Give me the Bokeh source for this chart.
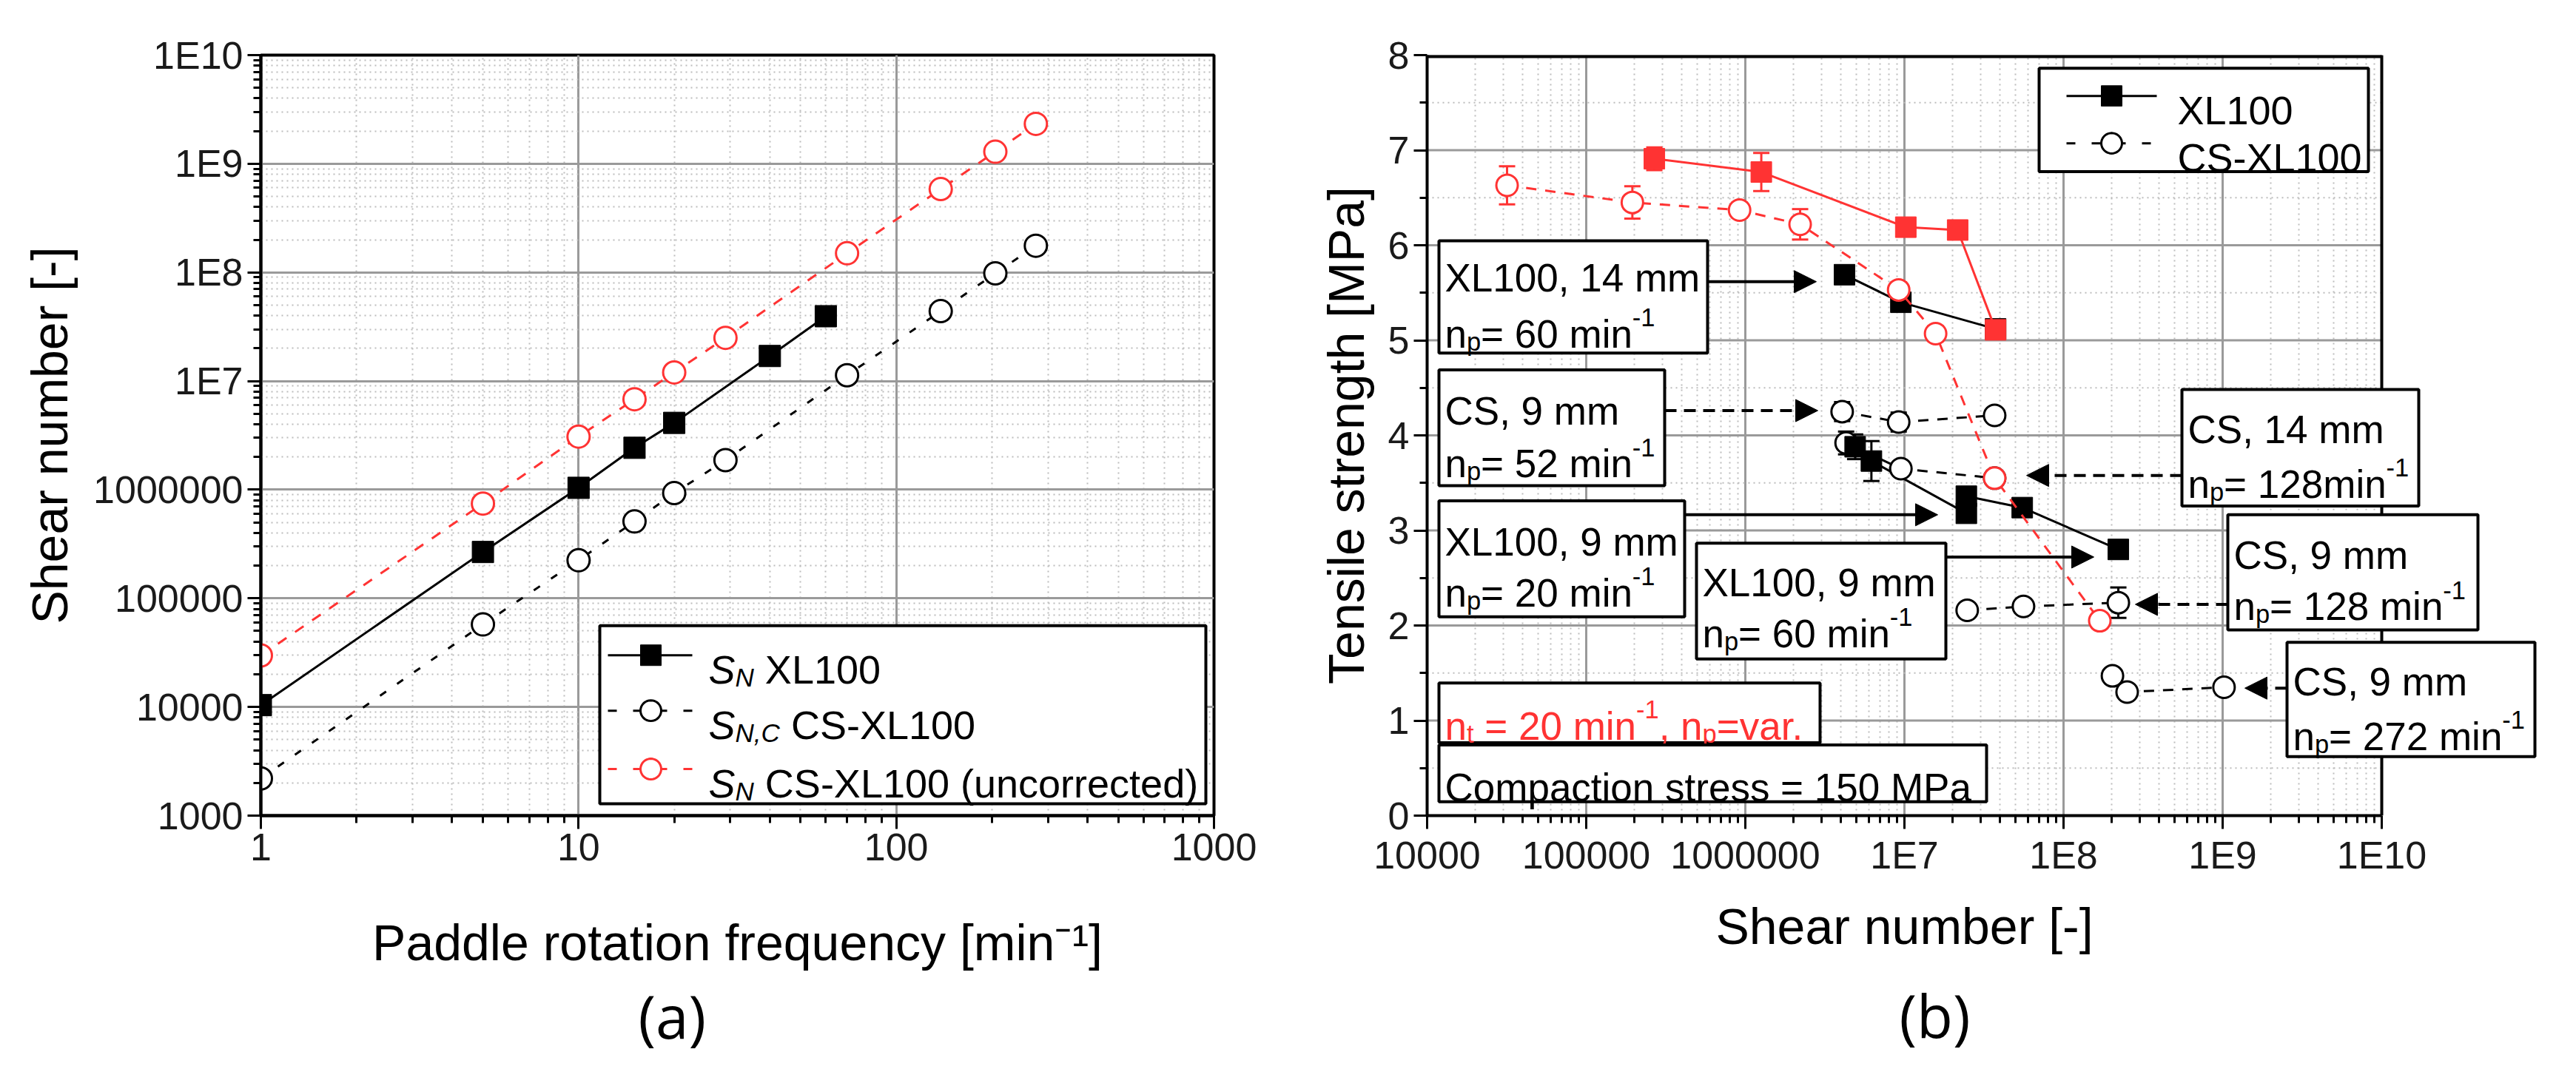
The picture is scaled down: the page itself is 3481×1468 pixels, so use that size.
import numpy as np
from bokeh.plotting import figure
from bokeh.layouts import row
from bokeh.models import (Range1d, FixedTicker, CustomJSTickFormatter, Label,
                          BoxAnnotation, PolyAnnotation, Arrow, NormalHead, Title)
from bokeh.embed import file_html
from bokeh.resources import INLINE

# ---------------- Panel (a): shear number vs paddle rotation frequency ----------------
a_freq_xl100 = [1, 5, 10, 15, 20, 40, 60]
a_sn_xl100 = [1.04e4, 2.67e5, 1.04e6, 2.43e6, 4.12e6, 1.70e7, 3.95e7]
a_freq_cs = [1, 5, 10, 15, 20, 29, 70, 138, 205, 275]
a_snc_cs = [2.2e3, 5.75e4, 2.24e5, 5.1e5, 9.3e5, 1.87e6, 1.13e7, 4.4e7, 9.8e7, 1.76e8]
a_sn_cs_uncorr = [2.98e4, 7.45e5, 3.08e6, 6.8e6, 1.2e7, 2.5e7, 1.5e8, 5.85e8, 1.29e9, 2.33e9]

a_xticks = [1, 10, 100, 1000]
a_xtick_labels = ["1", "10", "100", "1000"]
a_yticks = [1e3, 1e4, 1e5, 1e6, 1e7, 1e8, 1e9, 1e10]
a_ytick_labels = ["1000", "10000", "100000", "1000000", "1E7", "1E8", "1E9", "1E10"]

# ---------------- Panel (b): tensile strength vs shear number ----------------
# red: n_t = 20 min-1, n_p = var.
b_sh_xl_var = [2.68e5, 1.26e6, 1.02e7, 2.16e7, 3.74e7]
b_ts_xl_var = [6.91, 6.77, 6.19, 6.16, 5.11]
b_err_xl_var = [0.12, 0.20, 0.05, 0.05, 0.05]
b_sh_cs_var = [3.18e4, 1.95e5, 9.2e5, 2.21e6, 9.2e6, 1.57e7, 3.69e7, 1.69e8]
b_ts_cs_var = [6.63, 6.45, 6.37, 6.22, 5.53, 5.07, 3.55, 2.05]
b_err_cs_var = [0.20, 0.17, 0.08, 0.16, 0.08, 0.08, 0.08, 0.08]
# black squares: XL100
b_sh_xl14_60 = [4.2e6, 9.5e6, 3.74e7]
b_ts_xl14_60 = [5.69, 5.40, 5.12]
b_err_xl14_60 = [0.05, 0.08, 0.05]
b_sh_xl9_20 = [4.9e6, 6.2e6, 2.45e7]
b_ts_xl9_20 = [3.88, 3.73, 3.18]
b_err_xl9_20 = [0.13, 0.21, 0.08]
b_sh_xl9_60 = [2.45e7, 5.5e7, 2.21e8]
b_ts_xl9_60 = [3.36, 3.24, 2.80]
b_err_xl9_60 = [0.08, 0.05, 0.05]
# black open circles: CS-XL100
b_sh_cs9_52 = [4.06e6, 9.2e6, 3.69e7]
b_ts_cs9_52 = [4.25, 4.14, 4.21]
b_err_cs9_52 = [0.10, 0.10, 0.05]
b_sh_cs14_128 = [4.3e6, 9.5e6, 3.69e7]
b_ts_cs14_128 = [3.92, 3.65, 3.55]
b_err_cs14_128 = [0.12, 0.05, 0.05]
b_sh_cs9_128 = [2.48e7, 5.6e7, 2.21e8]
b_ts_cs9_128 = [2.16, 2.20, 2.24]
b_err_cs9_128 = [0.06, 0.05, 0.16]
b_sh_cs9_272 = [2.03e8, 2.51e8, 1.02e9]
b_ts_cs9_272 = [1.47, 1.30, 1.35]
b_err_cs9_272 = [0.05, 0.05, 0.05]

b_xticks = [1e4, 1e5, 1e6, 1e7, 1e8, 1e9, 1e10]
b_xtick_labels = ["10000", "100000", "1000000", "1E7", "1E8", "1E9", "1E10"]
b_yticks = [0, 1, 2, 3, 4, 5, 6, 7, 8]

# ---------------- styling constants ----------------
FONT = "Liberation Sans"
RED = "#ff3333"
W1, W2, H = 1740, 1725, 1452
FA_W, FA_H = 1288, 1029      # frame size, panel (a)
FB_W, FB_H = 1290, 1044      # axes size, panel (b)
FB_EXTRA = 225               # room right of the axes box for the call-out boxes

ARIAL = {' ': 278, '!': 278, '(': 333, ')': 333, ',': 278, '-': 333, '.': 278, '=': 584,
         '[': 278, ']': 278, ':': 278}
for c in "0123456789":
    ARIAL[c] = 556
ARIAL.update(dict(zip("ABCDEFGHIJKLMNOPQRSTUVWXYZ",
                      [667, 667, 722, 722, 667, 611, 778, 722, 278, 500, 667, 556, 833,
                       722, 778, 667, 778, 722, 667, 611, 722, 667, 944, 667, 667, 611])))
ARIAL.update(dict(zip("abcdefghijklmnopqrstuvwxyz",
                      [556, 556, 500, 556, 556, 278, 556, 556, 222, 222, 500, 222, 833,
                       556, 556, 556, 556, 333, 500, 278, 556, 500, 722, 500, 500, 500])))


def tw(s, size):
    return sum(ARIAL.get(c, 556) for c in s) * size / 1000.0


def formatter(tick_values, tick_labels):
    return CustomJSTickFormatter(args=dict(tv=[float(t) for t in tick_values], tl=tick_labels), code="""
        let best = 0, bd = 1e99;
        for (let i = 0; i < tv.length; i++) {
            const d = Math.abs(Math.log10(tv[i]) - Math.log10(tick));
            if (d < bd) { bd = d; best = i; }
        }
        return bd < 1e-6 ? tl[best] : "";
    """)


def style_axis(ax, standoff):
    ax.axis_line_width = 4
    ax.axis_line_color = "black"
    ax.major_tick_line_width = 3
    ax.major_tick_out = 18
    ax.major_tick_in = 0
    ax.minor_tick_line_width = 3
    ax.minor_tick_out = 10
    ax.minor_tick_in = 0
    ax.major_label_text_font = FONT
    ax.major_label_text_font_size = "52px"
    ax.major_label_text_color = "#1a1a1a"
    ax.major_label_standoff = 6
    ax.axis_label_text_font = FONT
    ax.axis_label_text_font_size = "68px"
    ax.axis_label_text_font_style = "normal"
    ax.axis_label_text_color = "black"
    ax.axis_label_standoff = standoff


GRID_MAJOR = dict(line_color="#9a9a9a", line_width=3)
GRID_MINOR = dict(line_color="#bdbdbd", line_width=2, line_dash="2 5")


def style_grid(g):
    g.grid_line_color = GRID_MAJOR["line_color"]
    g.grid_line_width = GRID_MAJOR["line_width"]
    g.minor_grid_line_color = GRID_MINOR["line_color"]
    g.minor_grid_line_width = GRID_MINOR["line_width"]
    g.minor_grid_line_dash = GRID_MINOR["line_dash"]


def rich(p, mx, my, px, pyc, segs, size, color="black"):
    """Draw a line of text with sub/superscripts; px,pyc in frame pixels (left, vertical centre)."""
    bx = mx(px)
    by = my(pyc - 0.358 * size)
    off = 0.0
    for text, kind in segs:
        fs = size if kind in ("n", "it") else size * 0.65
        dy = {"n": 0, "it": 0, "sub": -0.2 * size, "itsub": -0.2 * size, "sup": 0.42 * size}[kind]
        style = "italic" if kind.startswith("it") else "normal"
        lead = len(text) - len(text.lstrip(" "))
        s = text.strip(" ")
        if s:
            p.add_layout(Label(x=bx, y=by, x_offset=off + tw(" " * lead, fs), y_offset=dy, text=s,
                               text_font=FONT, text_font_size=f"{fs:.1f}px", text_font_style=style,
                               text_color=color, text_align="left", text_baseline="alphabetic"))
        off += tw(text, fs)


def box(p, mx, my, l, r, b, t):
    p.add_layout(BoxAnnotation(left=mx(l), right=mx(r), bottom=my(b), top=my(t),
                               fill_color="white", fill_alpha=1.0, line_color="black",
                               line_alpha=1.0, line_width=4))


def circle_poly(p, mx, my, cx, cy, r, color):
    ang = np.linspace(0, 2 * np.pi, 33)[:-1]
    p.add_layout(PolyAnnotation(xs=[mx(cx + r * np.cos(a)) for a in ang],
                                ys=[my(cy + r * np.sin(a)) for a in ang],
                                fill_color="white", fill_alpha=1.0, line_color=color,
                                line_alpha=1.0, line_width=3))


def seg(p, mx, my, x0, x1, y, color, dash="solid", width=3, head=False):
    end = NormalHead(size=30, fill_color=color, line_color=color, line_width=1) if head else None
    p.add_layout(Arrow(x_start=mx(x0), y_start=my(y), x_end=mx(x1), y_end=my(y), start=None, end=end,
                       line_color=color, line_width=width, line_dash=dash))


def err_bars(p, xs, ys, es, color):
    lo = [y - e for y, e in zip(ys, es)]
    hi = [y + e for y, e in zip(ys, es)]
    p.segment(x0=xs, y0=lo, x1=xs, y1=hi, line_color=color, line_width=3)
    p.scatter(xs, lo, marker="dash", size=22, line_color=color, line_width=3)
    p.scatter(xs, hi, marker="dash", size=22, line_color=color, line_width=3)


# =============================== Panel (a) ===============================
pa = figure(width=W1, height=H, x_axis_type="log", y_axis_type="log",
            x_range=Range1d(1, 1000), y_range=Range1d(1e3, 1e10),
            output_backend="svg", toolbar_location=None,
            min_border_left=352, min_border_right=W1 - 352 - FA_W,
            min_border_top=74, min_border_bottom=H - 74 - FA_H,
            background_fill_color="white", border_fill_color="white")
pa.outline_line_color = "black"
pa.outline_line_width = 4
pa.outline_line_alpha = 1.0

tx = FixedTicker(ticks=a_xticks, minor_ticks=[k * 10.0 ** e for e in range(0, 3) for k in range(2, 10)])
ty = FixedTicker(ticks=a_yticks, minor_ticks=[k * 10.0 ** e for e in range(3, 10) for k in range(2, 10)])
pa.xaxis[0].ticker = tx
pa.xgrid[0].ticker = tx
pa.yaxis[0].ticker = ty
pa.ygrid[0].ticker = ty
pa.xaxis[0].formatter = formatter(a_xticks, a_xtick_labels)
pa.yaxis[0].formatter = formatter(a_yticks, a_ytick_labels)
style_axis(pa.xaxis[0], 70)
style_axis(pa.yaxis[0], 18)
style_grid(pa.xgrid[0])
style_grid(pa.ygrid[0])
pa.xaxis[0].axis_label = "Paddle rotation frequency [min\u207b\u00b9]"
pa.yaxis[0].axis_label = "Shear number [-]"

pa.line(a_freq_cs, a_sn_cs_uncorr, line_color=RED, line_width=3, line_dash="14 14")
pa.line(a_freq_cs, a_snc_cs, line_color="black", line_width=3, line_dash="10 18")
pa.line(a_freq_xl100, a_sn_xl100, line_color="black", line_width=3)
pa.scatter(a_freq_cs, a_sn_cs_uncorr, marker="circle", size=30, fill_color="white",
           line_color=RED, line_width=3)
pa.scatter(a_freq_cs, a_snc_cs, marker="circle", size=30, fill_color="white",
           line_color="black", line_width=3)
pa.scatter(a_freq_xl100, a_sn_xl100, marker="square", size=29, fill_color="black",
           line_color="black", line_width=1)


def amx(px):
    return 10 ** (3.0 * px / FA_W)


def amy(py):
    return 10 ** (3.0 + 7.0 * py / FA_H)


# legend (a)
box(pa, amx, amy, 458, 1277, 16, 257)
LEG = 54
seg(pa, amx, amy, 469, 583, 217, "black")
pa.add_layout(BoxAnnotation(left=amx(513), right=amx(541), bottom=amy(203), top=amy(231),
                            fill_color="black", fill_alpha=1.0, line_color="black", line_alpha=1.0))
rich(pa, amx, amy, 605, 217, [("S", "it"), ("N", "itsub"), (" XL100", "n")], LEG)
seg(pa, amx, amy, 469, 583, 142, "black", dash="12 22")
circle_poly(pa, amx, amy, 527, 142, 14, "black")
rich(pa, amx, amy, 605, 142, [("S", "it"), ("N,C", "itsub"), (" CS-XL100", "n")], LEG)
seg(pa, amx, amy, 469, 583, 63, RED, dash="12 22")
circle_poly(pa, amx, amy, 527, 63, 14, RED)
rich(pa, amx, amy, 605, 63, [("S", "it"), ("N", "itsub"), (" CS-XL100 (uncorrected)", "n")], LEG)

pa.add_layout(Title(text="(a)", align="left", offset=510, standoff=2, text_font="Open Sans",
                    text_font_size="80px", text_font_style="normal", text_color="black"), "below")

# =============================== Panel (b) ===============================
B_XMIN, B_XMAX = b_xticks[0], b_xticks[-1]
B_YMIN, B_YMAX = b_yticks[0], b_yticks[-1]
b_decades = np.log10(B_XMAX) - np.log10(B_XMIN)
x_end_ext = 10 ** (np.log10(B_XMIN) + b_decades * (FB_W + FB_EXTRA) / FB_W)

pb = figure(width=W2, height=H, x_axis_type="log",
            x_range=Range1d(B_XMIN, x_end_ext), y_range=Range1d(B_YMIN, B_YMAX),
            output_backend="svg", toolbar_location=None,
            min_border_left=188, min_border_right=W2 - 188 - FB_W - FB_EXTRA,
            min_border_top=58, min_border_bottom=H - 58 - FB_H,
            background_fill_color="white", border_fill_color="white")
pb.outline_line_color = None

tbx = FixedTicker(ticks=b_xticks, minor_ticks=[k * 10.0 ** e for e in range(4, 10) for k in range(2, 10)])
tby = FixedTicker(ticks=b_yticks, minor_ticks=[v + 0.5 for v in b_yticks[:-1]])
pb.xaxis[0].ticker = tbx
pb.xgrid[0].ticker = tbx
pb.yaxis[0].ticker = tby
pb.xaxis[0].bounds = (B_XMIN, B_XMAX)
pb.xaxis[0].formatter = formatter(b_xticks, b_xtick_labels)
style_axis(pb.xaxis[0], 10)
style_axis(pb.yaxis[0], 16)
style_grid(pb.xgrid[0])
pb.ygrid[0].visible = False
pb.yaxis[0].axis_label = "Tensile strength [MPa]"

# horizontal grid limited to the axes box
b_yminor = [v + 0.5 for v in b_yticks[:-1]]
pb.segment(x0=[B_XMIN] * len(b_yminor), x1=[B_XMAX] * len(b_yminor), y0=b_yminor, y1=b_yminor,
           **GRID_MINOR)
pb.segment(x0=[B_XMIN] * len(b_yticks), x1=[B_XMAX] * len(b_yticks), y0=b_yticks, y1=b_yticks,
           **GRID_MAJOR)

black_sq = [(b_sh_xl14_60, b_ts_xl14_60, b_err_xl14_60),
            (b_sh_xl9_20, b_ts_xl9_20, b_err_xl9_20),
            (b_sh_xl9_60, b_ts_xl9_60, b_err_xl9_60)]
black_ci = [(b_sh_cs9_52, b_ts_cs9_52, b_err_cs9_52),
            (b_sh_cs14_128, b_ts_cs14_128, b_err_cs14_128),
            (b_sh_cs9_128, b_ts_cs9_128, b_err_cs9_128),
            (b_sh_cs9_272, b_ts_cs9_272, b_err_cs9_272)]

for xs, ys, es in black_ci:
    pb.line(xs, ys, line_color="black", line_width=3, line_dash="14 12")
for xs, ys, es in black_sq:
    pb.line(xs, ys, line_color="black", line_width=3)
for xs, ys, es in black_ci + black_sq:
    err_bars(pb, xs, ys, es, "black")
for xs, ys, es in black_ci:
    pb.scatter(xs, ys, marker="circle", size=29, fill_color="white", line_color="black", line_width=3)
for xs, ys, es in black_sq:
    pb.scatter(xs, ys, marker="square", size=28, fill_color="black", line_color="black", line_width=1)

pb.line(b_sh_cs_var, b_ts_cs_var, line_color=RED, line_width=3, line_dash="14 12")
pb.line(b_sh_xl_var, b_ts_xl_var, line_color=RED, line_width=3)
err_bars(pb, b_sh_cs_var, b_ts_cs_var, b_err_cs_var, RED)
err_bars(pb, b_sh_xl_var, b_ts_xl_var, b_err_xl_var, RED)
pb.scatter(b_sh_cs_var, b_ts_cs_var, marker="circle", size=29, fill_color="white",
           line_color=RED, line_width=3)
pb.scatter(b_sh_xl_var, b_ts_xl_var, marker="square", size=28, fill_color=RED,
           line_color=RED, line_width=1)

# axes box: top and right edges
pb.segment(x0=[B_XMIN], x1=[B_XMAX], y0=[B_YMAX], y1=[B_YMAX], line_color="black", line_width=8)
pb.segment(x0=[B_XMAX], x1=[B_XMAX], y0=[B_YMIN], y1=[B_YMAX], line_color="black", line_width=4)


def bmx(px):
    return 10 ** (np.log10(B_XMIN) + b_decades * px / FB_W)


def bmy(py):
    return B_YMIN + (B_YMAX - B_YMIN) * py / FB_H


TXT = 53
NP = [("n", "n"), ("p", "sub")]
annots = [
    # (l, r, b, t, text-left, line1 centre, line2 centre, line1, line2-rest, arrow x0, x1, y, dashed)
    (16, 379, 635, 789, 24, 757, 680, "XL100, 14 mm", "= 60 min", 379, 526, 733, False),
    (16, 321, 453, 612, 24, 574, 502, "CS, 9 mm", "= 52 min", 321, 528, 556, True),
    (1020, 1340, 425, 585, 1028, 549, 474, "CS, 14 mm", "= 128min", 1020, 810, 467, True),
    (16, 348, 273, 432, 24, 395, 325, "XL100, 9 mm", "= 20 min", 348, 690, 413, False),
    (364, 701, 215, 374, 372, 339, 269, "XL100, 9 mm", "= 60 min", 701, 901, 355, False),
    (1082, 1420, 255, 413, 1090, 376, 306, "CS, 9 mm", "= 128 min", 1082, 957, 290, True),
    (1162, 1497, 81, 238, 1170, 203, 128, "CS, 9 mm", "= 272 min", 1162, 1105, 175, True),
]
for (l, r, b, t, tl, c1, c2, line1, line2, ax0, ax1, ay, dashed) in annots:
    seg(pb, bmx, bmy, ax0, ax1, ay, "black", dash="16 10" if dashed else "solid", width=4, head=True)
    box(pb, bmx, bmy, l, r, b, t)
    rich(pb, bmx, bmy, tl, c1, [(line1, "n")], TXT)
    rich(pb, bmx, bmy, tl, c2, NP + [(line2, "n"), ("-1", "sup")], TXT)

box(pb, bmx, bmy, 16, 531, 100, 182)
rich(pb, bmx, bmy, 24, 142, [("n", "n"), ("t", "sub"), (" = 20 min", "n"), ("-1", "sup"),
                             (", n", "n"), ("p", "sub"), ("=var.", "n")], TXT, color=RED)
box(pb, bmx, bmy, 16, 756, 19, 97)
rich(pb, bmx, bmy, 24, 58, [("Compaction stress = 150 MPa", "n")], TXT)

# legend (b)
box(pb, bmx, bmy, 827, 1272, 884, 1026)
seg(pb, bmx, bmy, 864, 986, 988, "black")
pb.add_layout(BoxAnnotation(left=bmx(911), right=bmx(939), bottom=bmy(974), top=bmy(1002),
                            fill_color="black", fill_alpha=1.0, line_color="black", line_alpha=1.0))
rich(pb, bmx, bmy, 1014, 988, [("XL100", "n")], LEG)
seg(pb, bmx, bmy, 864, 986, 923, "black", dash="12 22")
circle_poly(pb, bmx, bmy, 925, 923, 14, "black")
rich(pb, bmx, bmy, 1014, 923, [("CS-XL100", "n")], LEG)

xlabel_b = "Shear number [-]"
pb.add_layout(Title(text=xlabel_b, align="left", offset=FB_W / 2 - tw(xlabel_b, 68) / 2, standoff=49,
                    text_font=FONT, text_font_size="68px", text_font_style="normal",
                    text_color="black"), "below")
pb.add_layout(Title(text="(b)", align="left", offset=638, standoff=0, text_font="Open Sans",
                    text_font_size="80px", text_font_style="normal", text_color="black"), "below")

layout = row(pa, pb)
open("out.html", "w").write(file_html(layout, INLINE))
